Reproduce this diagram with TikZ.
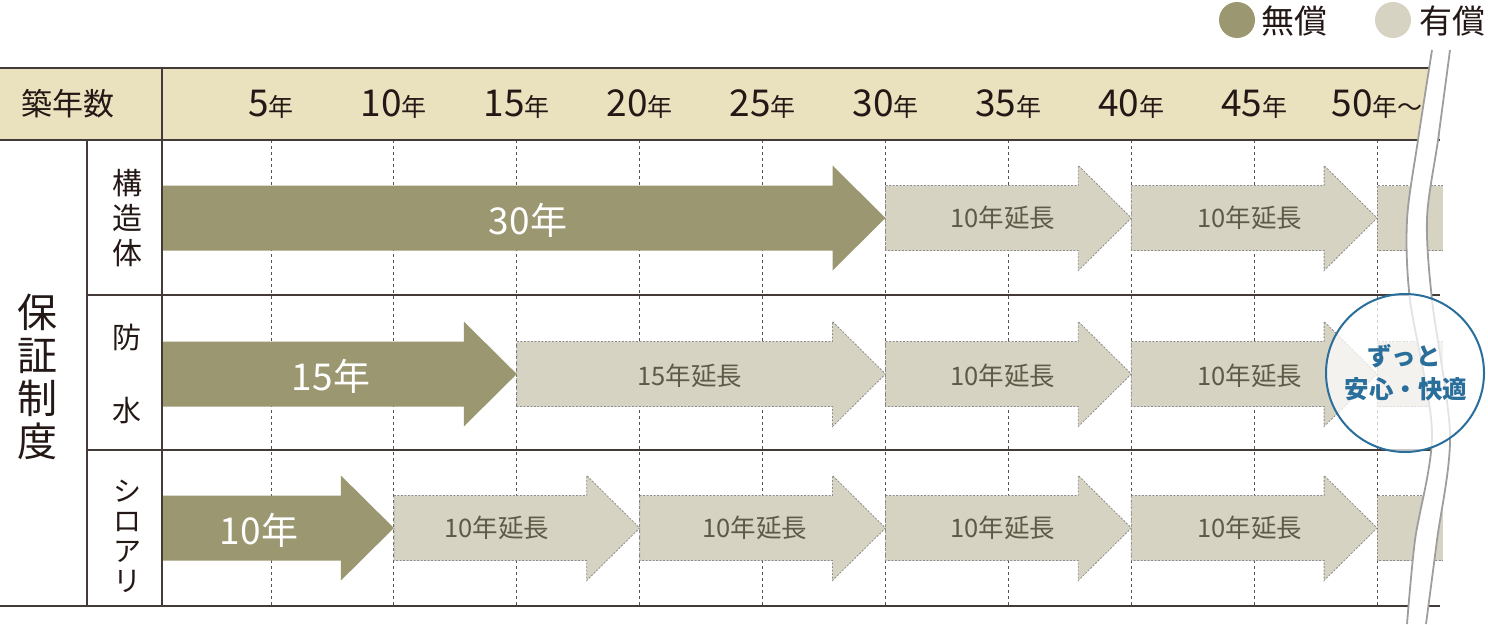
\documentclass[tikz,border=0pt]{standalone}
\usepackage{fontspec}
\newfontfamily\jp{Noto Sans CJK JP}
\usetikzlibrary{positioning}

\definecolor{free}{HTML}{9B9770}
\definecolor{paid}{HTML}{D6D3C2}
\definecolor{hdrbg}{HTML}{EAE1BF}
\definecolor{note}{HTML}{2A6E9B}
\definecolor{ext}{HTML}{5E5A48}
\definecolor{ink}{HTML}{231815}

\begin{document}
\begin{tikzpicture}[x=1pt, y=-1pt,
  font=\jp, text=ink,
  rule/.style={draw=ink!85, line width=1.4pt},
  gridline/.style={draw=ink!75, line width=0.9pt, dash pattern=on 3pt off 3pt},
  freearr/.style={fill=free},
  paidarr/.style={fill=paid, draw=black!45, line width=0.8pt, dash pattern=on 2pt off 1.5pt},
  yr/.style={inner sep=0pt, font=\jp\fontsize{37}{37}\selectfont},
  freelbl/.style={text=white, font=\jp\fontsize{37}{37}\selectfont},
  paidlbl/.style={text=ext, font=\jp\fontsize{25.5}{25.5}\selectfont},
  side/.style={align=center, inner sep=0pt},
  wave/.style={draw=black!38, line width=1.8pt}
]
\useasboundingbox (0,0) rectangle (1488,624);

\fill[hdrbg] (0,68) rectangle (1440,140);
\foreach \i in {0,...,9}
  \draw[gridline] ({271+\i*122.9},140) -- ({271+\i*122.9},606);

\foreach \a/\t/\y in {162/885.5/218, 162/516.8/374, 162/393.9/528}
  \fill[freearr] (\a,\y-32.5) -- (\t-53,\y-32.5) -- (\t-53,\y-52.5) -- (\t,\y)
    -- (\t-53,\y+52.5) -- (\t-53,\y+32.5) -- (\a,\y+32.5) -- cycle;
\foreach \a/\t/\y in {885.5/1131.3/218, 1131.3/1377.1/218,
    516.8/885.5/374, 885.5/1131.3/374, 1131.3/1377.1/374,
    393.9/639.7/528, 639.7/885.5/528, 885.5/1131.3/528, 1131.3/1377.1/528}
  \filldraw[paidarr] (\a,\y-32.5) -- (\t-53,\y-32.5) -- (\t-53,\y-52.5) -- (\t,\y)
    -- (\t-53,\y+52.5) -- (\t-53,\y+32.5) -- (\a,\y+32.5) -- cycle;
\foreach \y in {218,374,528}
  \filldraw[paidarr] (1443,\y-32.5) -- (1377.1,\y-32.5) -- (1377.1,\y+32.5) -- (1443,\y+32.5);

\draw[rule] (0,68) -- (1440,68);
\draw[rule] (0,140) -- (1440,140);
\draw[rule] (162,68) -- (162,606);
\draw[rule] (87,140) -- (87,606);
\draw[rule] (87,295) -- (1440,295);
\draw[rule] (87,450) -- (1440,450);
\draw[rule] (0,606) -- (1440,606);

\node[font=\jp\fontsize{31}{31}\selectfont] (age) at (68,104) {築年数};
\foreach \k [count=\i from 0] in {5,10,...,45}
  \node[yr] (y\k) at ({271+\i*122.9},104) {\k{\fontsize{25}{25}\selectfont 年}};
\node[yr] (y50) at (1377.1,104) {50{\fontsize{25}{25}\selectfont 年〜}};

\node[side, font=\jp\fontsize{40}{43}\selectfont] (system) at (37,377) {保\\証\\制\\度};
\node[side, font=\jp\fontsize{30}{35}\selectfont] (struct) at (127,218) {構\\造\\体};
\node[side, font=\jp\fontsize{29}{73}\selectfont] (water) at (127,374) {防\\水};
\node[side, font=\jp\fontsize{28}{30}\selectfont] (termite) at (127,536) {シ\\ロ\\ア\\リ};

\node[freelbl] (f30) at (528,220) {30年};
\node[freelbl] (f15) at (331,376) {15年};
\node[freelbl] (f10) at (259,530) {10年};

\node[paidlbl] (s1) at (1003,218) {10年延長};
\node[paidlbl] (s2) at (1250,218) {10年延長};
\node[paidlbl] (w1) at (690,376) {15年延長};
\node[paidlbl] (w2) at (1003,376) {10年延長};
\node[paidlbl] (w3) at (1250,376) {10年延長};
\node[paidlbl] (t1) at (497,528) {10年延長};
\node[paidlbl] (t2) at (755,528) {10年延長};
\node[paidlbl] (t3) at (1003,528) {10年延長};
\node[paidlbl] (t4) at (1250,528) {10年延長};

\fill[white] plot[smooth] coordinates {(1432,50) (1418,140) (1407,220) (1410,300) (1432,432) (1415,540) (1407,624)}
  -- plot[smooth] coordinates {(1426,624) (1437,540) (1450,435) (1432,300) (1427,218) (1438,140) (1450,50)} -- cycle;
\draw[wave] plot[smooth] coordinates {(1432,50) (1418,140) (1407,220) (1410,300) (1432,432) (1415,540) (1407,624)};
\draw[wave] plot[smooth] coordinates {(1450,50) (1438,140) (1427,218) (1432,300) (1450,435) (1437,540) (1426,624)};

\node[circle, draw=note, line width=2pt, fill=white, fill opacity=0.72, minimum size=158pt] (ease) at (1405,373) {};
\node[text=note, font=\jp\bfseries\fontsize{24.5}{24.5}\selectfont] (ease1) at (1404,356) {ずっと};
\node[text=note, font=\jp\bfseries\fontsize{24.5}{24.5}\selectfont] (ease2) at (1406,389) {安心・快適};

\fill[free] (1237,20) circle (18);
\node[font=\jp\fontsize{33}{33}\selectfont, anchor=west, inner sep=0pt] (lfree) at (1261,21) {無償};
\fill[paid] (1393,20) circle (18);
\node[font=\jp\fontsize{33}{33}\selectfont, anchor=west, inner sep=0pt] (lpaid) at (1419,21) {有償};
\end{tikzpicture}
\end{document}
